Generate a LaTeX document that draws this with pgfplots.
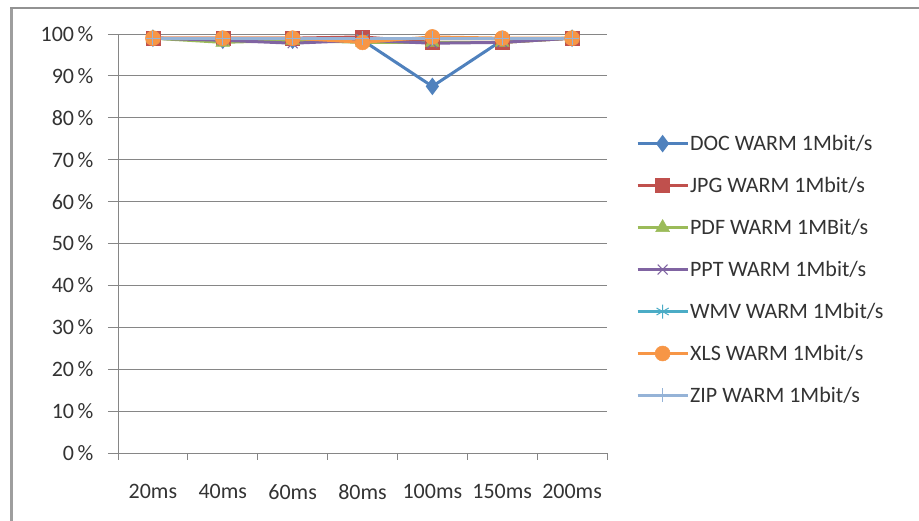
\documentclass[border=0pt]{standalone}
\usepackage{pgfplots}
\pgfplotsset{compat=1.18}
\usepackage{fontspec}
\setmainfont{Carlito}
\definecolor{cDOC}{HTML}{4F81BD}
\definecolor{cJPG}{HTML}{C0504D}
\definecolor{cPDF}{HTML}{9BBB59}
\definecolor{cPPT}{HTML}{8064A2}
\definecolor{cWMV}{HTML}{4BACC6}
\definecolor{cXLS}{HTML}{F79646}
\definecolor{cZIP}{HTML}{95B3D7}
\definecolor{axgray}{HTML}{868686}
\begin{document}
\begin{tikzpicture}[x=1pt,y=1pt]
\useasboundingbox (0,0) rectangle (919,521);
\fill[white] (0,0) rectangle (919,521);
\draw[axgray!80, line width=3pt] (11.5,0) -- (11.5,513);
\draw[axgray!90, line width=2pt] (10,513) -- (919,513);
\begin{axis}[
  at={(118pt,68pt)}, anchor=south west,
  scale only axis, width=489pt, height=419pt,
  xmin=-0.5, xmax=6.5, ymin=0, ymax=100,
  axis x line*=bottom, axis y line*=left,
  axis line style={-, axgray, line width=0.8pt},
  xtick={0,...,6},
  xticklabels={20ms,40ms,60ms,80ms,100ms,150ms,200ms},
  major x tick style={draw=none},
  minor xtick={-0.5,0.5,...,6.5},
  minor x tick style={axgray, line width=0.8pt},
  minor tick length=7pt,
  ytick={0,10,...,100},
  yticklabels={0\,\%,10\,\%,20\,\%,30\,\%,40\,\%,50\,\%,60\,\%,70\,\%,80\,\%,90\,\%,100\,\%},
  major y tick style={axgray, line width=0.8pt},
  major tick length=10pt,
  tick align=outside,
  ymajorgrids, grid style={axgray, line width=0.8pt},
  tick label style={font=\fontsize{22}{25}\selectfont, text=black!80},
  yticklabel style={xshift=-11pt},
  xticklabel style={yshift=-18pt},
  legend style={at={(1.053,0.766)}, anchor=north west, draw=none, fill=none,
    font=\fontsize{22}{25}\selectfont, text=black!80,
    row sep=23.2pt, nodes={inner sep=1pt}},
  legend cell align=left,
  legend image code/.code={
    \draw[#1, mark repeat=2, mark phase=2] plot coordinates {(0pt,0pt) (25pt,0pt) (50pt,0pt)};
  },
  every axis plot/.append style={line width=3pt},
  clip=false,
]
\addplot[cDOC, mark=diamond*, mark size=8pt, mark options={fill=cDOC, line width=1pt}]
  coordinates {(0,99) (1,98.5) (2,98.5) (3,98.5) (4,87.5) (5,98.5) (6,99)};
\addlegendentry{DOC WARM 1Mbit/s}
\addplot[cJPG, mark=square*, mark size=7pt, mark options={fill=cJPG, line width=0.5pt}]
  coordinates {(0,99) (1,99) (2,99) (3,99.3) (4,98) (5,98) (6,99)};
\addlegendentry{JPG WARM 1Mbit/s}
\addplot[cPDF, mark=triangle*, mark size=8pt, mark options={fill=cPDF, line width=0.5pt}]
  coordinates {(0,99) (1,98) (2,98.5) (3,98) (4,98) (5,98) (6,99)};
\addlegendentry{PDF WARM 1MBit/s}
\addplot[cPPT, mark=x, mark size=7pt, mark options={line width=1pt}]
  coordinates {(0,99) (1,98.5) (2,97.8) (3,98.5) (4,97.8) (5,98) (6,99)};
\addlegendentry{PPT WARM 1Mbit/s}
\addplot[cWMV, mark=asterisk, mark size=7pt, mark options={line width=1pt}]
  coordinates {(0,99) (1,99) (2,99) (3,99) (4,99) (5,99) (6,99)};
\addlegendentry{WMV WARM 1Mbit/s}
\addplot[cXLS, mark=*, mark size=7.5pt, mark options={fill=cXLS, line width=0.5pt}]
  coordinates {(0,99) (1,99) (2,99) (3,98) (4,99.3) (5,99) (6,99)};
\addlegendentry{XLS WARM 1Mbit/s}
\addplot[cZIP, mark=+, mark size=7pt, mark options={line width=1pt}]
  coordinates {(0,99) (1,99) (2,99) (3,99) (4,99) (5,99) (6,99)};
\addlegendentry{ZIP WARM 1Mbit/s}
\end{axis}
\end{tikzpicture}
\end{document}
